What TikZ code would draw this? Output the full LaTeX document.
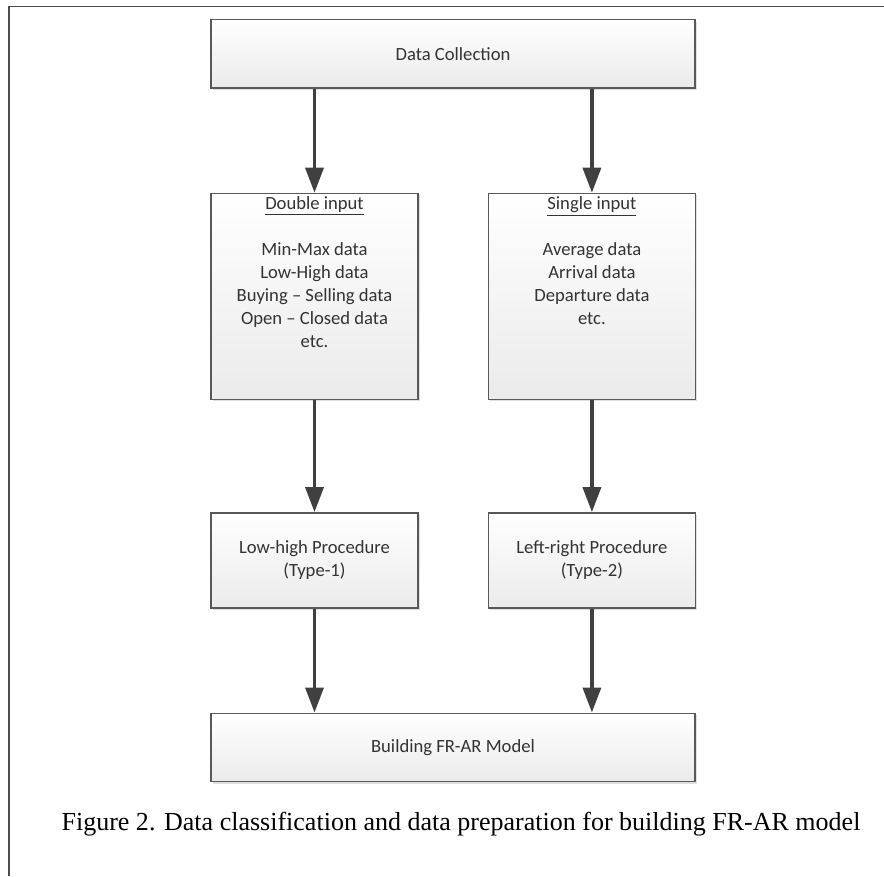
\documentclass[tikz,border=0pt]{standalone}
\usepackage{fontspec}
\setmainfont{Liberation Serif}
\newfontfamily\boxfont{Carlito}
\usepackage{tikz}
\usetikzlibrary{arrows.meta, positioning, shadows}
\newcommand{\topbox}[1]{\parbox[c][4cm][t]{4cm}{\centering #1}}
\tikzset
{
box/.style={draw=black!65, line width=0.8pt, top color=white, bottom color=black!8,
	drop shadow={shadow xshift=0.04cm, shadow yshift=-0.04cm, opacity=0.25},
	text=black!80, font=\boxfont\fontsize{10.6pt}{13.1pt}\selectfont,
	align=center, inner sep=0pt},
widebox/.style={box, minimum width=9.68cm, minimum height=1.37cm},
tallbox/.style={box, minimum width=4.14cm, minimum height=4.12cm},
procbox/.style={box, minimum width=4.14cm, minimum height=1.9cm},
flow/.style={line width=2pt, draw=black!75, -{Triangle[width=0.36cm, length=0.5cm]}},
frame/.style={draw=black!70, line width=0.8pt}
}
\begin{document}
\begin{tikzpicture}
	\useasboundingbox (0,0) rectangle (17.68,-17.52);

	% page frame
	\coordinate (fl) at (0.18,-17.52);
	\coordinate (fc) at (0.18,-0.13);
	\coordinate (fr) at (17.68,-0.13);
	\draw[frame] (fl) -- (fc) -- (fr);

	% [TOP]
	\node[widebox] (coll) at (9.06,-1.075) {Data Collection};

	% [INPUT ROW]
	\node[tallbox, below right=2.08cm and 0cm of coll.south west] (dbl) {\topbox{%
		\underline{Double input}\\[13.1pt]
		Min-Max data\\
		Low-High data\\
		Buying – Selling data\\
		Open – Closed data\\
		etc.}};
	\node[tallbox, right=1.38cm of dbl] (sgl) {\topbox{%
		\underline{Single input}\\[13.1pt]
		Average data\\
		Arrival data\\
		Departure data\\
		etc.}};

	% [PROCEDURE ROW]
	\node[procbox, below=2.24cm of dbl] (lowhigh) {Low-high Procedure\\(Type-1)};
	\node[procbox, below=2.24cm of sgl] (leftright) {Left-right Procedure\\(Type-2)};

	% [BOTTOM]
	\node[widebox, below right=2.08cm and 0cm of lowhigh.south west] (build) {Building FR-AR Model};

	% caption
	\node[font=\fontsize{14.8pt}{17pt}\selectfont, below=0.48cm of build, xshift=0.16cm] (cap)
		{Figure 2. Data classification and data preparation for building FR-AR model};

	\draw[flow] (dbl.north |- coll.south) -- (dbl.north);
	\draw[flow] (sgl.north |- coll.south) -- (sgl.north);
	\draw[flow] (dbl) -- (lowhigh);
	\draw[flow] (sgl) -- (leftright);
	\draw[flow] (lowhigh.south) -- (lowhigh.south |- build.north);
	\draw[flow] (leftright.south) -- (leftright.south |- build.north);
\end{tikzpicture}
\end{document}
